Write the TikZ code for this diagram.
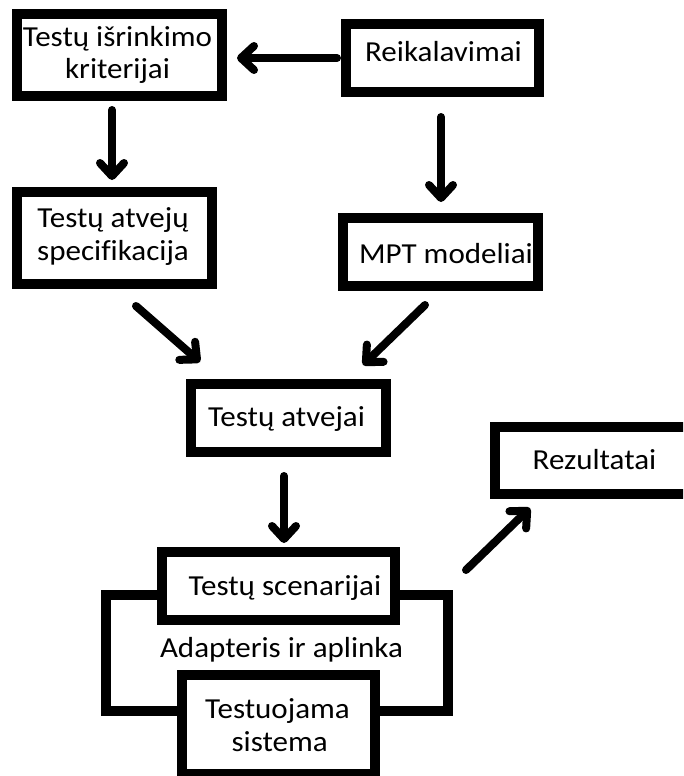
\documentclass[tikz,border=0pt]{standalone}
\usepackage{fontspec}
\setmainfont{Carlito}[FakeStretch=1.07, Ligatures=NoCommon]
\usetikzlibrary{arrows.meta,calc}
\begin{document}
\begin{tikzpicture}[x=1pt,y=-1pt,
  box/.style={draw=black, line width=10pt, fill=white, inner sep=0pt, outer sep=5pt},
  frame/.style={draw=black, line width=10pt, inner sep=0pt, outer sep=5pt},
  txt/.style={font=\fontsize{29}{32}\selectfont, inner sep=0pt, anchor=base},
  flow/.style={line width=8pt, line cap=round,
    -{Straight Barb[length=13pt,width=24pt,round]}}
]
\useasboundingbox (0,0) rectangle (683,776);
\clip (0,0) rectangle (683,776);

% outer environment frame (drawn first so inner boxes cover it)
\node[frame, minimum width=341.5pt, minimum height=115.5pt] (env) at (276.75,652.75) {};

% boxes
\node[box, minimum width=205pt, minimum height=82pt] (A) at (119.5,55) {};
\node[box, minimum width=193pt, minimum height=68pt] (B) at (442.5,58) {};
\node[box, minimum width=195pt, minimum height=92pt] (C) at (114.5,238) {};
\node[box, minimum width=195pt, minimum height=68pt] (D) at (440.5,252) {};
\node[box, minimum width=195pt, minimum height=68pt] (E) at (288.5,418) {};
\node[box, minimum width=200pt, minimum height=67pt] (R) at (595,460.5) {};
\node[box, minimum width=233pt, minimum height=68pt] (F) at (278.5,586) {};
\node[box, minimum width=193pt, minimum height=99pt] (G) at (278.5,724.5) {};

% labels
\node[txt] (A1) at (117.5,46.7) {Testų išrinkimo};
\node[txt] (A2) at (117.5,78.3) {kriterijai};
\node[txt] (B1) at (443.5,61.7) {Reikalavimai};
\node[txt] (C1) at (113,227) {Testų atvejų};
\node[txt] (C2) at (113,260) {specifikacija};
\node[txt] (D1) at (446,263.3) {MPT modeliai};
\node[txt] (E1) at (286.5,426.7) {Testų atvejai};
\node[txt] (R1) at (594.5,469.3) {Rezultatai};
\node[txt] (F1) at (285,595) {Testų scenarijai};
\node[txt] (env1) at (281.5,657) {Adapteris ir aplinka};
\node[txt] (G1) at (277.5,718.3) {Testuojama};
\node[txt] (G2) at (279.7,751.7) {sistema};

% connectors
\draw[flow, shorten <=4pt, shorten >=10pt] (B.west) -- (B.west -| A.east);
\draw[flow] ($(A.south)+(-7.5,9)$) -- ($(C.north)+(-2.5,-7)$);
\draw[flow] ($(B.south)+(-1.5,20)$) -- ($(D.north)+(0.5,-11)$);
\draw[flow] ($(C.south)+(21.5,17)$) -- ($(E.north)+(-88.5,-17)$);
\draw[flow] ($(D.south)+(-15.5,14)$) -- ($(E.north)+(74.5,-14)$);
\draw[flow] ($(E.south)+(-4.5,19)$) -- ($(F.north)+(5.5,-4)$);
\draw[flow] ($(F.east)+(66,-16)$) -- ($(R.south west)+(40,9)$);
\end{tikzpicture}
\end{document}
